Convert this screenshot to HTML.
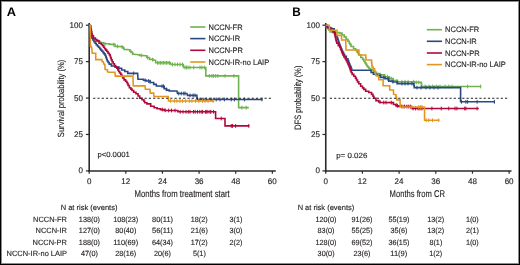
<!DOCTYPE html>
<html><head><meta charset="utf-8">
<style>
html,body{margin:0;padding:0;background:#fff;}
body{width:520px;height:265px;overflow:hidden;}
svg{display:block;}
.t{font-family:"Liberation Sans",sans-serif;fill:#231f20;stroke:#231f20;stroke-width:0.14px;}
svg{text-rendering:geometricPrecision;}
.b{font-family:"Liberation Sans",sans-serif;font-weight:bold;fill:#000;}
</style></head><body>
<svg width="520" height="265" viewBox="0 0 520 265" style="transform:translateZ(0)">
<text x="6.88" y="15.6" class="b" style="font-size:12.5px" textLength="9.26" lengthAdjust="spacingAndGlyphs">A</text>
<text x="292.21" y="15.6" class="b" style="font-size:12.5px" textLength="8.53" lengthAdjust="spacingAndGlyphs">B</text>
<line x1="89.2" y1="23.0" x2="89.2" y2="171.8" stroke="#2a2a2a" stroke-width="1.6"/>
<line x1="88.4" y1="171.0" x2="275.8" y2="171.0" stroke="#2a2a2a" stroke-width="1.6"/>
<line x1="85.9" y1="25.2" x2="89.2" y2="25.2" stroke="#2a2a2a" stroke-width="1.2"/>
<text x="69.61" y="27.65" class="t" style="font-size:8.2px" textLength="13.41" lengthAdjust="spacingAndGlyphs">100</text>
<line x1="85.9" y1="61.62" x2="89.2" y2="61.62" stroke="#2a2a2a" stroke-width="1.2"/>
<text x="74.10" y="64.07" class="t" style="font-size:8.2px" textLength="8.94" lengthAdjust="spacingAndGlyphs">75</text>
<line x1="85.9" y1="98.05" x2="89.2" y2="98.05" stroke="#2a2a2a" stroke-width="1.2"/>
<text x="74.08" y="100.50" class="t" style="font-size:8.2px" textLength="8.94" lengthAdjust="spacingAndGlyphs">50</text>
<line x1="85.9" y1="134.47" x2="89.2" y2="134.47" stroke="#2a2a2a" stroke-width="1.2"/>
<text x="74.10" y="136.92" class="t" style="font-size:8.2px" textLength="8.94" lengthAdjust="spacingAndGlyphs">25</text>
<line x1="85.9" y1="170.9" x2="89.2" y2="170.9" stroke="#2a2a2a" stroke-width="1.2"/>
<text x="78.54" y="173.35" class="t" style="font-size:8.2px" textLength="4.47" lengthAdjust="spacingAndGlyphs">0</text>
<line x1="89.2" y1="171.0" x2="89.2" y2="173.7" stroke="#2a2a2a" stroke-width="1.2"/>
<text x="86.97" y="183.50" class="t" style="font-size:8.2px" textLength="4.47" lengthAdjust="spacingAndGlyphs">0</text>
<line x1="125.83" y1="171.0" x2="125.83" y2="173.7" stroke="#2a2a2a" stroke-width="1.2"/>
<text x="121.26" y="183.50" class="t" style="font-size:8.2px" textLength="8.94" lengthAdjust="spacingAndGlyphs">12</text>
<line x1="162.46" y1="171.0" x2="162.46" y2="173.7" stroke="#2a2a2a" stroke-width="1.2"/>
<text x="157.91" y="183.50" class="t" style="font-size:8.2px" textLength="8.94" lengthAdjust="spacingAndGlyphs">24</text>
<line x1="199.09" y1="171.0" x2="199.09" y2="173.7" stroke="#2a2a2a" stroke-width="1.2"/>
<text x="194.64" y="183.50" class="t" style="font-size:8.2px" textLength="8.94" lengthAdjust="spacingAndGlyphs">36</text>
<line x1="235.72" y1="171.0" x2="235.72" y2="173.7" stroke="#2a2a2a" stroke-width="1.2"/>
<text x="231.33" y="183.50" class="t" style="font-size:8.2px" textLength="8.94" lengthAdjust="spacingAndGlyphs">48</text>
<line x1="272.35" y1="171.0" x2="272.35" y2="173.7" stroke="#2a2a2a" stroke-width="1.2"/>
<text x="267.83" y="183.50" class="t" style="font-size:8.2px" textLength="8.94" lengthAdjust="spacingAndGlyphs">60</text>
<line x1="325.75" y1="23.0" x2="325.75" y2="171.8" stroke="#2a2a2a" stroke-width="1.6"/>
<line x1="324.95" y1="171.0" x2="511.5" y2="171.0" stroke="#2a2a2a" stroke-width="1.6"/>
<line x1="322.45" y1="25.2" x2="325.75" y2="25.2" stroke="#2a2a2a" stroke-width="1.2"/>
<text x="306.61" y="27.65" class="t" style="font-size:8.2px" textLength="13.41" lengthAdjust="spacingAndGlyphs">100</text>
<line x1="322.45" y1="61.62" x2="325.75" y2="61.62" stroke="#2a2a2a" stroke-width="1.2"/>
<text x="311.10" y="64.07" class="t" style="font-size:8.2px" textLength="8.94" lengthAdjust="spacingAndGlyphs">75</text>
<line x1="322.45" y1="98.05" x2="325.75" y2="98.05" stroke="#2a2a2a" stroke-width="1.2"/>
<text x="311.08" y="100.50" class="t" style="font-size:8.2px" textLength="8.94" lengthAdjust="spacingAndGlyphs">50</text>
<line x1="322.45" y1="134.47" x2="325.75" y2="134.47" stroke="#2a2a2a" stroke-width="1.2"/>
<text x="311.10" y="136.92" class="t" style="font-size:8.2px" textLength="8.94" lengthAdjust="spacingAndGlyphs">25</text>
<line x1="322.45" y1="170.9" x2="325.75" y2="170.9" stroke="#2a2a2a" stroke-width="1.2"/>
<text x="315.54" y="173.35" class="t" style="font-size:8.2px" textLength="4.47" lengthAdjust="spacingAndGlyphs">0</text>
<line x1="325.75" y1="171.0" x2="325.75" y2="173.7" stroke="#2a2a2a" stroke-width="1.2"/>
<text x="323.52" y="183.50" class="t" style="font-size:8.2px" textLength="4.47" lengthAdjust="spacingAndGlyphs">0</text>
<line x1="362.43" y1="171.0" x2="362.43" y2="173.7" stroke="#2a2a2a" stroke-width="1.2"/>
<text x="357.86" y="183.50" class="t" style="font-size:8.2px" textLength="8.94" lengthAdjust="spacingAndGlyphs">12</text>
<line x1="399.11" y1="171.0" x2="399.11" y2="173.7" stroke="#2a2a2a" stroke-width="1.2"/>
<text x="394.56" y="183.50" class="t" style="font-size:8.2px" textLength="8.94" lengthAdjust="spacingAndGlyphs">24</text>
<line x1="435.79" y1="171.0" x2="435.79" y2="173.7" stroke="#2a2a2a" stroke-width="1.2"/>
<text x="431.34" y="183.50" class="t" style="font-size:8.2px" textLength="8.94" lengthAdjust="spacingAndGlyphs">36</text>
<line x1="472.47" y1="171.0" x2="472.47" y2="173.7" stroke="#2a2a2a" stroke-width="1.2"/>
<text x="468.08" y="183.50" class="t" style="font-size:8.2px" textLength="8.94" lengthAdjust="spacingAndGlyphs">48</text>
<line x1="509.15" y1="171.0" x2="509.15" y2="173.7" stroke="#2a2a2a" stroke-width="1.2"/>
<text x="504.63" y="183.50" class="t" style="font-size:8.2px" textLength="8.94" lengthAdjust="spacingAndGlyphs">60</text>
<polyline points="89.30,25.20 89.55,25.20 89.55,26.85 90.05,26.85 90.05,28.50 90.30,28.50 90.53,28.50 90.53,30.50 90.97,30.50 90.97,32.50 91.20,32.50 91.50,32.50 91.50,34.00 92.10,34.00 92.10,35.50 92.40,35.50 93.35,35.50 93.35,38.00 94.30,38.00 95.55,38.00 95.55,40.00 96.80,40.00 98.00,40.00 98.00,41.50 99.20,41.50 100.50,41.50 100.50,42.80 101.80,42.80 103.55,42.80 103.55,43.80 105.30,43.80 109.40,43.80 109.40,44.40 113.50,44.40 115.00,44.40 115.00,46.40 116.50,46.40 122.60,46.80 123.06,46.80 123.06,48.10 123.99,48.10 123.99,49.40 124.45,49.40 129.40,49.80 129.95,49.80 129.95,51.15 131.05,51.15 131.05,52.50 131.60,52.50 132.75,52.50 132.75,54.30 133.90,54.30 138.40,54.70 139.55,54.70 139.55,55.40 140.70,55.40 146.00,55.80 146.75,55.80 146.75,57.50 147.50,57.50 149.40,57.50 149.40,59.40 151.30,59.40 153.20,59.40 153.20,60.20 155.10,60.20 155.65,60.20 155.65,62.60 156.20,62.60 156.50,62.80 170.40,62.80 171.00,64.40 183.10,64.50 183.26,64.50 183.26,66.00 183.59,66.00 183.59,67.50 183.75,67.50 205.80,67.50 205.80,75.90 238.60,75.90 238.60,107.60 248.80,107.60" fill="none" stroke="#6fb24f" stroke-width="1.6" stroke-linejoin="miter"/>
<path d="M105.00 41.81v3.80M113.75 42.67v3.80M117.50 44.57v3.80M121.90 44.85v3.80M132.50 51.30v3.80M141.25 53.54v3.80M147.50 55.60v3.80M152.50 57.75v3.80M157.50 60.90v3.80M159.00 60.90v3.80M160.50 60.90v3.80M162.00 60.90v3.80M163.50 60.90v3.80M165.00 60.90v3.80M166.50 60.90v3.80M168.00 60.90v3.80M169.50 60.90v3.80M172.50 62.51v3.80M175.00 62.53v3.80M177.50 62.55v3.80M180.00 62.57v3.80M182.50 62.60v3.80M185.00 65.60v3.80M186.50 65.60v3.80M188.00 65.60v3.80M190.00 65.60v3.80M193.75 65.60v3.80M200.00 65.60v3.80M201.90 65.60v3.80M204.40 65.60v3.80M209.30 74.00v3.80M211.90 74.00v3.80M213.60 74.00v3.80M215.70 74.00v3.80M217.80 74.00v3.80M225.00 74.00v3.80M233.90 74.00v3.80M241.90 105.70v3.80M246.25 105.70v3.80" stroke="#6fb24f" stroke-width="1.0" fill="none"/>
<polyline points="89.30,25.20 89.42,25.20 89.42,26.80 89.65,26.80 89.65,28.40 89.88,28.40 89.88,30.00 90.00,30.00 90.13,30.00 90.13,31.67 90.40,31.67 90.40,33.33 90.67,33.33 90.67,35.00 90.80,35.00 91.17,35.00 91.17,36.65 91.92,36.65 91.92,38.30 92.30,38.30 92.85,38.30 92.85,40.00 93.95,40.00 93.95,41.70 94.50,41.70 95.08,41.70 95.08,43.20 96.22,43.20 96.22,44.70 96.80,44.70 97.38,44.70 97.38,46.00 98.52,46.00 98.52,47.30 99.10,47.30 99.65,47.30 99.65,48.65 100.75,48.65 100.75,50.00 101.30,50.00 101.88,50.00 101.88,51.30 103.02,51.30 103.02,52.60 103.60,52.60 104.07,52.60 104.07,53.90 105.03,53.90 105.03,55.20 105.50,55.20 105.72,55.20 105.72,56.60 106.18,56.60 106.18,58.00 106.40,58.00 106.68,58.00 106.68,59.50 107.22,59.50 107.22,61.00 107.50,61.00 108.08,61.00 108.08,62.55 109.22,62.55 109.22,64.10 109.80,64.10 111.30,64.10 111.30,66.00 112.80,66.00 115.10,66.00 115.10,67.10 117.40,67.10 118.90,67.10 118.90,68.20 120.40,68.20 121.65,68.20 121.65,70.00 122.90,70.00 124.75,70.00 124.75,71.50 126.60,71.50 127.75,71.50 127.75,73.40 128.90,73.40 137.60,73.40 138.00,79.30 142.40,79.30 143.50,79.30 143.50,80.30 144.60,80.30 146.50,80.30 146.50,81.00 148.40,81.00 150.30,81.00 150.30,82.50 152.20,82.50 153.70,82.50 153.70,84.40 155.20,84.40 156.35,84.40 156.35,86.00 157.50,86.00 163.50,86.30 164.20,86.30 164.20,88.70 164.90,88.70 166.60,88.70 166.60,90.10 168.30,90.10 169.25,90.10 169.25,91.00 170.20,91.00 176.90,91.00 177.50,93.50 186.90,93.50 187.50,95.40 196.90,95.40 197.25,99.50 262.70,99.50" fill="none" stroke="#2a4882" stroke-width="1.6" stroke-linejoin="miter"/>
<path d="M133.70 71.50v3.80M145.20 78.51v3.80M148.60 79.18v3.80M150.00 79.73v3.80M162.00 84.32v3.80M163.50 84.40v3.80M166.30 87.38v3.80M178.75 91.60v3.80M181.25 91.60v3.80M183.75 91.60v3.80M185.00 91.60v3.80M190.00 93.50v3.80M193.10 93.50v3.80M195.00 93.50v3.80M200.00 97.60v3.80M203.10 97.60v3.80M206.25 97.60v3.80M211.25 97.60v3.80M216.25 97.60v3.80M220.00 97.60v3.80M224.40 97.60v3.80M231.25 97.60v3.80M234.40 97.60v3.80M244.40 97.60v3.80M261.90 97.60v3.80" stroke="#2a4882" stroke-width="1.0" fill="none"/>
<polyline points="89.30,25.20 90.05,25.20 90.05,25.80 90.80,25.80 91.30,30.00 91.45,30.00 91.45,31.70 91.75,31.70 91.75,33.40 91.90,33.40 92.40,36.00 93.45,36.00 93.45,38.30 94.50,38.30 95.25,38.30 95.25,39.60 96.75,39.60 96.75,40.90 97.50,40.90 99.05,40.90 99.05,43.20 100.60,43.20 101.25,43.20 101.25,44.50 102.55,44.50 102.55,45.80 103.20,45.80 103.67,45.80 103.67,47.30 104.62,47.30 104.62,48.80 105.10,48.80 105.67,48.80 105.67,50.15 106.83,50.15 106.83,51.50 107.40,51.50 108.05,51.50 108.05,53.20 109.35,53.20 109.35,54.90 110.00,54.90 110.22,54.90 110.22,56.45 110.68,56.45 110.68,58.00 110.90,58.00 111.30,58.00 111.30,59.90 112.10,59.90 112.10,61.80 112.50,61.80 113.15,61.80 113.15,63.70 114.45,63.70 114.45,65.60 115.10,65.60 115.67,65.60 115.67,66.90 116.83,66.90 116.83,68.20 117.40,68.20 117.83,68.20 117.83,69.85 118.67,69.85 118.67,71.50 119.10,71.50 119.67,71.50 119.67,73.05 120.83,73.05 120.83,74.60 121.40,74.60 121.83,74.60 121.83,76.30 122.67,76.30 122.67,78.00 123.10,78.00 124.05,78.00 124.05,79.90 125.00,79.90 125.58,79.90 125.58,81.20 126.72,81.20 126.72,82.50 127.30,82.50 127.58,82.50 127.58,84.00 128.12,84.00 128.12,85.50 128.40,85.50 129.35,85.50 129.35,87.80 130.30,87.80 130.88,87.80 130.88,89.15 132.03,89.15 132.03,90.50 132.60,90.50 133.70,90.50 133.70,92.30 134.80,92.30 135.95,92.30 135.95,93.80 137.10,93.80 138.05,93.80 138.05,96.00 139.00,96.00 139.75,96.00 139.75,98.30 140.50,98.30 142.00,98.30 142.00,99.80 143.50,99.80 143.90,99.80 143.90,101.30 144.70,101.30 144.70,102.80 145.10,102.80 146.95,102.80 146.95,103.90 148.80,103.90 150.70,103.90 150.70,106.20 152.60,106.20 154.10,106.20 154.10,107.70 155.60,107.70 157.10,107.70 157.10,108.80 158.60,108.80 160.50,108.80 160.50,109.60 162.40,109.60 164.30,109.60 164.30,110.50 166.20,110.50 177.30,110.50 177.90,110.50 177.90,111.80 178.50,111.80 215.60,111.80 215.60,118.50 225.00,118.50 225.00,125.90 249.40,125.90" fill="none" stroke="#b0083a" stroke-width="1.6" stroke-linejoin="miter"/>
<path d="M162.30 107.68v3.80M165.20 108.36v3.80M168.70 108.60v3.80M171.50 108.60v3.80M175.00 108.60v3.80M180.20 109.90v3.80M183.00 109.90v3.80M186.00 109.90v3.80M188.30 109.90v3.80M190.00 109.90v3.80M193.50 109.90v3.80M195.20 109.90v3.80M197.50 109.90v3.80M199.80 109.90v3.80M201.90 109.90v3.80M202.70 109.90v3.80M205.60 109.90v3.80M206.25 109.90v3.80M207.90 109.90v3.80M210.00 109.90v3.80M210.80 109.90v3.80M213.60 109.90v3.80M221.25 116.60v3.80M231.25 124.00v3.80M232.50 124.00v3.80M235.60 124.00v3.80M248.75 124.00v3.80" stroke="#b0083a" stroke-width="1.0" fill="none"/>
<polyline points="89.30,25.20 90.30,25.60 90.40,46.30 91.10,46.30 91.10,47.50 91.80,47.50 92.20,53.30 95.70,53.30 95.70,59.60 101.90,59.60 102.20,61.80 103.40,61.80 103.80,64.10 104.90,64.30 105.10,69.30 107.00,69.70 107.40,69.70 107.40,71.50 107.80,71.50 108.20,72.30 114.90,72.30 115.30,76.10 132.90,76.10 133.30,85.90 145.00,85.90 145.40,89.30 149.90,89.30 150.30,93.10 153.70,93.10 154.00,96.50 168.30,96.50 168.50,101.00 214.40,101.00" fill="none" stroke="#e3961f" stroke-width="1.6" stroke-linejoin="miter"/>
<path d="M170.60 99.10v3.80M174.40 99.10v3.80M176.90 99.10v3.80M180.00 99.10v3.80M182.50 99.10v3.80M185.60 99.10v3.80M189.40 99.10v3.80M191.90 99.10v3.80M195.60 99.10v3.80M198.75 99.10v3.80M202.50 99.10v3.80M205.00 99.10v3.80M208.10 99.10v3.80M213.10 99.10v3.80" stroke="#e3961f" stroke-width="1.0" fill="none"/>
<polyline points="325.75,25.20 326.38,25.20 326.38,26.98 327.62,26.98 327.62,28.75 328.25,28.75 328.88,28.75 328.88,30.32 330.12,30.32 330.12,31.90 330.75,31.90 332.62,31.90 332.62,32.50 334.50,32.50 338.25,32.50 339.50,32.50 339.50,33.10 340.75,33.10 342.00,33.10 342.00,35.00 343.25,35.00 344.18,35.00 344.18,36.90 345.10,36.90 346.05,36.90 346.05,39.40 347.00,39.40 347.95,39.40 347.95,41.25 348.90,41.25 349.20,41.25 349.20,42.83 349.80,42.83 349.80,44.40 350.10,44.40 351.05,44.40 351.05,46.50 352.00,46.50 353.55,46.50 353.55,48.75 355.10,48.75 355.73,48.75 355.73,50.33 356.98,50.33 356.98,51.90 357.60,51.90 358.08,51.90 358.08,53.45 359.02,53.45 359.02,55.00 359.50,55.00 360.75,55.00 360.75,57.50 362.00,57.50 362.62,57.50 362.62,59.38 363.88,59.38 363.88,61.25 364.50,61.25 364.98,61.25 364.98,62.83 365.92,62.83 365.92,64.40 366.40,64.40 366.80,64.40 366.80,65.70 367.60,65.70 367.60,67.00 368.00,67.00 368.90,67.00 368.90,68.50 370.70,68.50 370.70,70.00 371.60,70.00 373.40,70.00 373.40,72.30 375.20,72.30 376.35,72.30 376.35,73.60 377.50,73.60 379.38,73.60 379.38,74.90 381.25,74.90 384.38,74.90 384.38,76.75 387.50,76.75 389.38,76.75 389.38,78.60 391.25,78.60 393.12,78.60 393.12,80.50 395.00,80.50 397.50,80.50 397.50,81.75 400.00,81.75 413.75,81.75 414.38,81.75 414.38,82.40 415.00,82.40 421.25,82.40 421.41,82.40 421.41,84.45 421.74,84.45 421.74,86.50 421.90,86.50 481.25,86.50" fill="none" stroke="#6fb24f" stroke-width="1.6" stroke-linejoin="miter"/>
<path d="M380.60 72.77v3.80M385.00 74.11v3.80M387.50 74.85v3.80M391.25 76.70v3.80M396.90 79.07v3.80M401.90 79.85v3.80M405.00 79.85v3.80M408.10 79.85v3.80M413.75 79.85v3.80M416.25 80.50v3.80M418.75 80.50v3.80M425.00 84.60v3.80M428.75 84.60v3.80M432.50 84.60v3.80M436.25 84.60v3.80M440.00 84.60v3.80M445.00 84.60v3.80M448.75 84.60v3.80M452.00 84.60v3.80M467.50 84.60v3.80M480.60 84.60v3.80" stroke="#6fb24f" stroke-width="1.0" fill="none"/>
<polyline points="325.75,25.20 326.69,25.20 326.69,26.65 328.56,26.65 328.56,28.10 329.50,28.10 331.70,28.10 331.70,28.75 333.90,28.75 334.20,28.75 334.20,31.25 334.50,31.25 334.81,31.25 334.81,33.12 335.44,33.12 335.44,35.00 335.75,35.00 336.21,35.00 336.21,36.55 337.14,36.55 337.14,38.10 337.60,38.10 337.82,38.10 337.82,39.57 338.25,39.57 338.25,41.03 338.68,41.03 338.68,42.50 338.90,42.50 339.20,42.50 339.20,44.05 339.80,44.05 339.80,45.60 340.10,45.60 340.42,45.60 340.42,47.23 341.05,47.23 341.05,48.87 341.68,48.87 341.68,50.50 342.00,50.50 342.52,50.50 342.52,52.42 343.55,52.42 343.55,54.33 344.58,54.33 344.58,56.25 345.10,56.25 346.35,56.25 346.35,58.75 347.60,58.75 347.93,58.75 347.93,60.62 348.57,60.62 348.57,62.50 348.90,62.50 349.21,62.50 349.21,63.97 349.82,63.97 349.82,65.43 350.44,65.43 350.44,66.90 350.75,66.90 351.06,66.90 351.06,68.55 351.69,68.55 351.69,70.20 352.00,70.20 370.60,70.25 371.10,70.25 371.10,72.50 371.60,72.50 373.40,72.50 373.40,74.30 375.20,74.30 376.98,74.30 376.98,75.50 378.75,75.50 380.62,75.50 380.62,77.40 382.50,77.40 385.00,77.40 385.00,78.60 387.50,78.60 388.75,78.60 388.75,81.10 390.00,81.10 392.50,81.10 392.50,82.00 395.00,82.00 397.50,82.00 397.50,83.60 400.00,83.60 413.75,83.60 413.91,83.60 413.91,85.60 414.24,85.60 414.24,87.60 414.40,87.60 460.60,87.60 460.60,101.80 495.00,101.80" fill="none" stroke="#2a4882" stroke-width="1.6" stroke-linejoin="miter"/>
<path d="M380.00 74.23v3.80M383.75 75.80v3.80M388.00 77.20v3.80M393.00 79.74v3.80M397.00 80.74v3.80M402.00 81.70v3.80M405.00 81.70v3.80M408.00 81.70v3.80M412.00 81.70v3.80M417.00 85.70v3.80M421.00 85.70v3.80M426.00 85.70v3.80M430.00 85.70v3.80M434.00 85.70v3.80M438.00 85.70v3.80M461.50 99.90v3.80M465.90 99.90v3.80M467.60 99.90v3.80M477.10 99.90v3.80M494.40 99.90v3.80" stroke="#2a4882" stroke-width="1.0" fill="none"/>
<polyline points="325.75,25.20 327.32,25.20 327.32,27.50 328.90,27.50 330.45,27.50 330.45,30.00 332.00,30.00 333.25,30.00 333.25,32.50 334.50,32.50 334.66,32.50 334.66,34.06 334.97,34.06 334.97,35.62 335.28,35.62 335.28,37.19 335.59,37.19 335.59,38.75 335.75,38.75 335.96,38.75 335.96,40.20 336.38,40.20 336.38,41.65 336.79,41.65 336.79,43.10 337.00,43.10 338.25,43.10 338.25,45.60 339.50,45.60 339.81,45.60 339.81,47.17 340.44,47.17 340.44,48.75 340.75,48.75 341.06,48.75 341.06,50.31 341.69,50.31 341.69,51.88 342.31,51.88 342.31,53.44 342.94,53.44 342.94,55.00 343.25,55.00 343.88,55.00 343.88,56.88 345.12,56.88 345.12,58.75 345.75,58.75 346.21,58.75 346.21,60.62 347.14,60.62 347.14,62.50 347.60,62.50 347.92,62.50 347.92,63.97 348.55,63.97 348.55,65.43 349.18,65.43 349.18,66.90 349.50,66.90 349.81,66.90 349.81,68.75 350.44,68.75 350.44,70.60 350.75,70.60 351.21,70.60 351.21,72.50 352.14,72.50 352.14,74.40 352.60,74.40 353.80,74.40 353.80,76.25 355.00,76.25 355.48,76.25 355.48,78.12 356.42,78.12 356.42,80.00 356.90,80.00 357.52,80.00 357.52,81.88 358.77,81.88 358.77,83.75 359.40,83.75 360.65,83.75 360.65,86.25 361.90,86.25 362.52,86.25 362.52,87.83 363.77,87.83 363.77,89.40 364.40,89.40 365.65,89.40 365.65,91.25 366.90,91.25 368.75,91.25 368.75,92.50 370.60,92.50 371.55,92.50 371.55,94.40 372.50,94.40 372.98,94.40 372.98,96.30 373.92,96.30 373.92,98.20 374.40,98.20 375.95,98.20 375.95,100.60 377.50,100.60 378.75,100.60 378.75,102.00 380.00,102.00 381.25,102.50 392.50,102.60 393.45,102.60 393.45,104.50 394.40,104.50 395.95,104.50 395.95,105.75 397.50,105.75 398.75,105.75 398.75,106.40 400.00,106.40 410.60,106.60 411.55,106.60 411.55,108.50 412.50,108.50 478.75,108.50" fill="none" stroke="#b0083a" stroke-width="1.6" stroke-linejoin="miter"/>
<path d="M380.00 100.10v3.80M383.75 100.62v3.80M386.00 100.64v3.80M391.25 100.69v3.80M396.25 103.35v3.80M397.50 103.85v3.80M401.90 104.54v3.80M404.40 104.58v3.80M406.90 104.63v3.80M408.75 104.67v3.80M410.60 104.70v3.80M413.10 106.60v3.80M415.60 106.60v3.80M418.10 106.60v3.80M420.00 106.60v3.80M421.90 106.60v3.80M431.90 106.60v3.80M441.25 106.60v3.80M448.75 106.60v3.80M455.00 106.60v3.80M456.90 106.60v3.80M464.70 106.60v3.80M465.90 106.60v3.80M477.10 106.60v3.80" stroke="#b0083a" stroke-width="1.0" fill="none"/>
<polyline points="325.75,25.20 329.30,25.20 329.50,30.20 337.00,30.20 337.10,35.40 341.50,35.40 341.60,40.00 345.75,40.00 346.00,50.00 358.90,50.00 358.90,55.00 365.75,55.00 366.00,60.00 371.40,60.00 371.50,60.00 371.50,61.75 371.70,61.75 371.70,63.50 371.90,63.50 371.90,65.25 372.10,65.25 372.10,67.00 372.20,67.00 373.10,67.00 373.10,68.80 374.00,68.80 374.60,68.80 374.60,71.20 375.20,71.20 375.32,71.20 375.32,72.63 375.55,72.63 375.55,74.07 375.78,74.07 375.78,75.50 375.90,75.50 378.30,76.00 378.90,79.70 383.10,79.70 383.10,85.70 389.70,85.70 389.70,90.00 393.40,90.00 393.60,94.20 395.80,94.80 395.98,94.80 395.98,96.50 396.35,96.50 396.35,98.20 396.72,98.20 396.72,99.90 396.90,99.90 400.00,99.90 400.25,107.00 424.50,107.00 424.60,120.30 439.40,120.30" fill="none" stroke="#e3961f" stroke-width="1.6" stroke-linejoin="miter"/>
<path d="M403.10 105.10v3.80M411.25 105.10v3.80M418.75 105.10v3.80M420.60 105.10v3.80M422.00 105.10v3.80M426.25 118.40v3.80M428.75 118.40v3.80M432.50 118.40v3.80M438.75 118.40v3.80" stroke="#e3961f" stroke-width="1.0" fill="none"/>
<line x1="93.15" y1="98.25" x2="271.0" y2="98.25" stroke="#222" stroke-width="1.0" stroke-dasharray="2.2 2.084"/>
<line x1="329.8" y1="98.25" x2="507.3" y2="98.25" stroke="#222" stroke-width="1.0" stroke-dasharray="2.2 2.073"/>
<line x1="190.2" y1="27.0" x2="205.39999999999998" y2="27.0" stroke="#6fb24f" stroke-width="1.6"/>
<text x="208.49" y="29.60" class="t" style="font-size:7.9px" textLength="34.08" lengthAdjust="spacingAndGlyphs">NCCN-FR</text>
<line x1="190.2" y1="38.6" x2="205.39999999999998" y2="38.6" stroke="#2a4882" stroke-width="1.6"/>
<text x="208.49" y="41.20" class="t" style="font-size:7.9px" textLength="31.59" lengthAdjust="spacingAndGlyphs">NCCN-IR</text>
<line x1="190.2" y1="50.3" x2="205.39999999999998" y2="50.3" stroke="#b0083a" stroke-width="1.6"/>
<text x="208.49" y="52.90" class="t" style="font-size:7.9px" textLength="34.50" lengthAdjust="spacingAndGlyphs">NCCN-PR</text>
<line x1="190.2" y1="62.0" x2="205.39999999999998" y2="62.0" stroke="#e3961f" stroke-width="1.6"/>
<text x="208.49" y="64.60" class="t" style="font-size:7.9px" textLength="60.71" lengthAdjust="spacingAndGlyphs">NCCN-IR-no LAIP</text>
<line x1="426.8" y1="29.7" x2="442.0" y2="29.7" stroke="#6fb24f" stroke-width="1.6"/>
<text x="445.09" y="32.30" class="t" style="font-size:7.9px" textLength="34.08" lengthAdjust="spacingAndGlyphs">NCCN-FR</text>
<line x1="426.8" y1="41.3" x2="442.0" y2="41.3" stroke="#2a4882" stroke-width="1.6"/>
<text x="445.09" y="43.90" class="t" style="font-size:7.9px" textLength="31.59" lengthAdjust="spacingAndGlyphs">NCCN-IR</text>
<line x1="426.8" y1="53.0" x2="442.0" y2="53.0" stroke="#b0083a" stroke-width="1.6"/>
<text x="445.09" y="55.60" class="t" style="font-size:7.9px" textLength="34.50" lengthAdjust="spacingAndGlyphs">NCCN-PR</text>
<line x1="426.8" y1="64.6" x2="442.0" y2="64.6" stroke="#e3961f" stroke-width="1.6"/>
<text x="445.09" y="67.20" class="t" style="font-size:7.9px" textLength="60.71" lengthAdjust="spacingAndGlyphs">NCCN-IR-no LAIP</text>
<text x="97.40" y="157.40" class="t" style="font-size:7.5px" textLength="32.37" lengthAdjust="spacingAndGlyphs">p&lt;0.0001</text>
<text x="336.19" y="157.90" class="t" style="font-size:7.5px" textLength="31.16" lengthAdjust="spacingAndGlyphs">p= 0.026</text>
<text x="134.56" y="196.80" class="t" style="font-size:9.8px" textLength="95.19" lengthAdjust="spacingAndGlyphs">Months from treatment start</text>
<text x="389.62" y="196.80" class="t" style="font-size:9.8px" textLength="55.48" lengthAdjust="spacingAndGlyphs">Months from CR</text>
<text transform="translate(63.70,136.80) rotate(-90)" x="-0.34" y="0" class="t" style="font-size:9.0px" textLength="77.31" lengthAdjust="spacingAndGlyphs">Survival probability (%)</text>
<text transform="translate(300.70,129.10) rotate(-90)" x="-0.61" y="0" class="t" style="font-size:9.3px" textLength="64.06" lengthAdjust="spacingAndGlyphs">DFS probability (%)</text>
<text x="60.63" y="209.70" class="t" style="font-size:7.6px" textLength="56.83" lengthAdjust="spacingAndGlyphs">N at risk (events)</text>
<text x="297.64" y="209.70" class="t" style="font-size:7.6px" textLength="56.58" lengthAdjust="spacingAndGlyphs">N at risk (events)</text>
<text x="33.03" y="221.90" class="t" style="font-size:7.6px" textLength="33.91" lengthAdjust="spacingAndGlyphs">NCCN-FR</text>
<text x="35.51" y="233.40" class="t" style="font-size:7.6px" textLength="31.43" lengthAdjust="spacingAndGlyphs">NCCN-IR</text>
<text x="32.62" y="244.90" class="t" style="font-size:7.6px" textLength="34.33" lengthAdjust="spacingAndGlyphs">NCCN-PR</text>
<text x="6.59" y="256.40" class="t" style="font-size:7.6px" textLength="60.40" lengthAdjust="spacingAndGlyphs">NCCN-IR-no LAIP</text>
<text x="78.85" y="221.90" class="t" style="font-size:7.5px" textLength="21.00" lengthAdjust="spacingAndGlyphs">138(0)</text>
<text x="113.18" y="221.90" class="t" style="font-size:7.5px" textLength="25.05" lengthAdjust="spacingAndGlyphs">108(23)</text>
<text x="152.07" y="221.90" class="t" style="font-size:7.5px" textLength="21.00" lengthAdjust="spacingAndGlyphs">80(11)</text>
<text x="190.77" y="221.90" class="t" style="font-size:7.5px" textLength="16.96" lengthAdjust="spacingAndGlyphs">18(2)</text>
<text x="229.53" y="221.90" class="t" style="font-size:7.5px" textLength="12.92" lengthAdjust="spacingAndGlyphs">3(1)</text>
<text x="78.85" y="233.40" class="t" style="font-size:7.5px" textLength="21.00" lengthAdjust="spacingAndGlyphs">127(0)</text>
<text x="115.32" y="233.40" class="t" style="font-size:7.5px" textLength="21.00" lengthAdjust="spacingAndGlyphs">80(40)</text>
<text x="152.08" y="233.40" class="t" style="font-size:7.5px" textLength="21.00" lengthAdjust="spacingAndGlyphs">56(11)</text>
<text x="190.86" y="233.40" class="t" style="font-size:7.5px" textLength="16.96" lengthAdjust="spacingAndGlyphs">21(6)</text>
<text x="229.53" y="233.40" class="t" style="font-size:7.5px" textLength="12.92" lengthAdjust="spacingAndGlyphs">3(0)</text>
<text x="78.85" y="244.90" class="t" style="font-size:7.5px" textLength="21.00" lengthAdjust="spacingAndGlyphs">188(0)</text>
<text x="113.18" y="244.90" class="t" style="font-size:7.5px" textLength="25.05" lengthAdjust="spacingAndGlyphs">110(69)</text>
<text x="152.04" y="244.90" class="t" style="font-size:7.5px" textLength="21.00" lengthAdjust="spacingAndGlyphs">64(34)</text>
<text x="190.77" y="244.90" class="t" style="font-size:7.5px" textLength="16.96" lengthAdjust="spacingAndGlyphs">17(2)</text>
<text x="229.48" y="244.90" class="t" style="font-size:7.5px" textLength="12.92" lengthAdjust="spacingAndGlyphs">2(2)</text>
<text x="81.06" y="256.40" class="t" style="font-size:7.5px" textLength="16.96" lengthAdjust="spacingAndGlyphs">47(0)</text>
<text x="115.29" y="256.40" class="t" style="font-size:7.5px" textLength="21.00" lengthAdjust="spacingAndGlyphs">28(16)</text>
<text x="154.06" y="256.40" class="t" style="font-size:7.5px" textLength="16.96" lengthAdjust="spacingAndGlyphs">20(6)</text>
<text x="192.92" y="256.40" class="t" style="font-size:7.5px" textLength="12.92" lengthAdjust="spacingAndGlyphs">5(1)</text>
<text x="315.45" y="221.90" class="t" style="font-size:7.5px" textLength="21.00" lengthAdjust="spacingAndGlyphs">120(0)</text>
<text x="351.55" y="221.90" class="t" style="font-size:7.5px" textLength="21.00" lengthAdjust="spacingAndGlyphs">91(26)</text>
<text x="388.38" y="221.90" class="t" style="font-size:7.5px" textLength="21.00" lengthAdjust="spacingAndGlyphs">55(19)</text>
<text x="427.27" y="221.90" class="t" style="font-size:7.5px" textLength="16.96" lengthAdjust="spacingAndGlyphs">13(2)</text>
<text x="465.89" y="221.90" class="t" style="font-size:7.5px" textLength="12.92" lengthAdjust="spacingAndGlyphs">1(0)</text>
<text x="317.59" y="233.40" class="t" style="font-size:7.5px" textLength="16.96" lengthAdjust="spacingAndGlyphs">83(0)</text>
<text x="351.58" y="233.40" class="t" style="font-size:7.5px" textLength="21.00" lengthAdjust="spacingAndGlyphs">55(25)</text>
<text x="390.41" y="233.40" class="t" style="font-size:7.5px" textLength="16.96" lengthAdjust="spacingAndGlyphs">35(6)</text>
<text x="427.27" y="233.40" class="t" style="font-size:7.5px" textLength="16.96" lengthAdjust="spacingAndGlyphs">13(2)</text>
<text x="465.98" y="233.40" class="t" style="font-size:7.5px" textLength="12.92" lengthAdjust="spacingAndGlyphs">2(1)</text>
<text x="315.45" y="244.90" class="t" style="font-size:7.5px" textLength="21.00" lengthAdjust="spacingAndGlyphs">128(0)</text>
<text x="351.54" y="244.90" class="t" style="font-size:7.5px" textLength="21.00" lengthAdjust="spacingAndGlyphs">69(52)</text>
<text x="388.38" y="244.90" class="t" style="font-size:7.5px" textLength="21.00" lengthAdjust="spacingAndGlyphs">36(15)</text>
<text x="429.41" y="244.90" class="t" style="font-size:7.5px" textLength="12.92" lengthAdjust="spacingAndGlyphs">8(1)</text>
<text x="465.89" y="244.90" class="t" style="font-size:7.5px" textLength="12.92" lengthAdjust="spacingAndGlyphs">1(0)</text>
<text x="317.61" y="256.40" class="t" style="font-size:7.5px" textLength="16.96" lengthAdjust="spacingAndGlyphs">30(0)</text>
<text x="353.56" y="256.40" class="t" style="font-size:7.5px" textLength="16.96" lengthAdjust="spacingAndGlyphs">23(6)</text>
<text x="390.27" y="256.40" class="t" style="font-size:7.5px" textLength="16.96" lengthAdjust="spacingAndGlyphs">11(9)</text>
<text x="429.29" y="256.40" class="t" style="font-size:7.5px" textLength="12.92" lengthAdjust="spacingAndGlyphs">1(2)</text>
<rect x="0.5" y="0.5" width="519" height="264" fill="none" stroke="#000" stroke-width="1"/>
<rect x="1.5" y="1.5" width="517" height="262" fill="none" stroke="rgba(0,0,0,0.45)" stroke-width="1"/>
</svg>
</body></html>
